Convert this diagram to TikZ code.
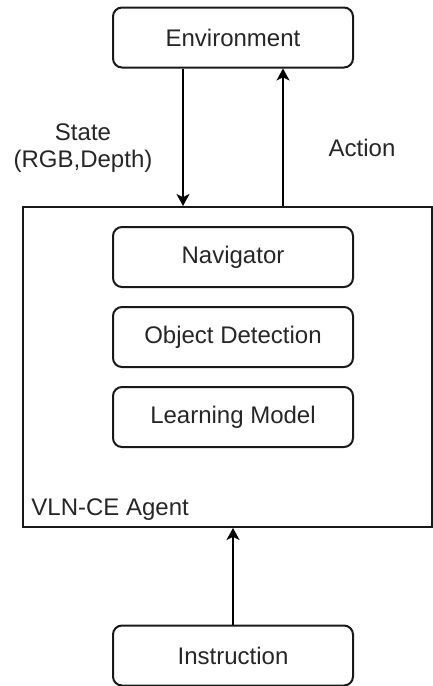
\documentclass[tikz,border=0pt]{standalone}
\usepackage{fontspec}
\setmainfont{Liberation Sans}
\usetikzlibrary{arrows.meta}
\begin{document}
\begin{tikzpicture}[x=0.5pt,y=-0.5pt,
  txt/.style={text=black!85,font=\fontsize{12}{13.5}\selectfont},
  module/.style={txt,draw=black!90,line width=1pt,rounded corners=4.5pt,
    minimum width=120pt,minimum height=30pt,inner sep=0pt},
  frame/.style={draw=black!90,line width=1pt,minimum width=204.5pt,
    minimum height=160pt,inner sep=0pt},
  arr/.style={draw=black,line width=1pt,
    -{Stealth[length=6pt,width=6.5pt,inset=1.6pt]}}]
\useasboundingbox (0,0) rectangle (433,686);

% outer agent frame and its modules
\node[frame] (agent) at (227.5,367) {};
\node[module] (env) at (233,37.5) {Environment};
\node[module] (nav) at (233,257) {Navigator};
\node[module] (det) at (233,337) {Object Detection};
\node[module] (learn) at (233,417) {Learning Model};
\node[module] (instr) at (233,655.5) {Instruction};

\node[txt,anchor=base west,inner sep=0pt] (agentlabel) at (31,515) {VLN-CE Agent};

% labels of the loop
\node[txt,align=center,inner sep=0pt] (state) at (83,148.5) {State\\(RGB,Depth)};
\node[txt,inner sep=0pt] (action) at (362,148) {Action};

% connectors
\coordinate (sTop) at ([xshift=-25pt]env.south);
\coordinate (aTop) at ([xshift=25pt]env.south);
\draw[arr] (sTop) -- (sTop |- agent.north);
\draw[arr] (aTop |- agent.north) -- (aTop);
\draw[arr] (instr.north) -- (instr.north |- agent.south);
\end{tikzpicture}
\end{document}
